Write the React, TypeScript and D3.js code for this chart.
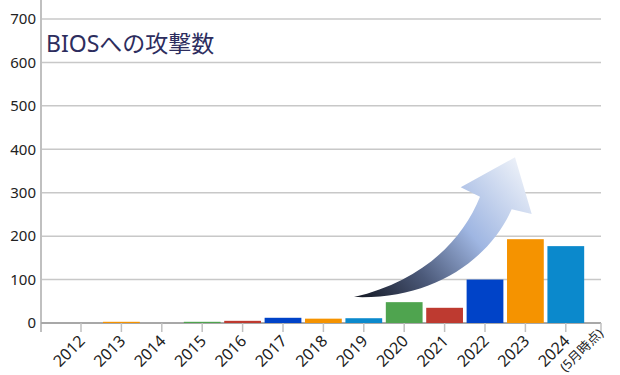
import * as d3 from "d3";

const years = ["2012", "2013", "2014", "2015", "2016", "2017", "2018", "2019", "2020", "2021", "2022", "2023", "2024"];
const attacks = [0, 1, 0, 1, 5, 12, 10, 11, 48, 35, 100, 193, 177];
const yTicks = [0, 100, 200, 300, 400, 500, 600, 700];
const palette = ["#0043c8", "#f59300", "#0b89cc", "#4fa44f", "#be3a30"];
const title = "BIOSへの攻撃数";
const footnote = "(5月時点)";

const W = 620, H = 375;
const left = 41, right = 601, top = 19, bottom = 323;
const font = "'Noto Sans', 'Noto Sans CJK JP', sans-serif";

export default function App() {
  const y = d3.scaleLinear().domain([0, 700]).range([bottom, top]);
  const x = d3.scaleBand().domain(years).range([60.8, 586]).paddingInner(0.09).paddingOuter(0.045);
  const color = d3.scaleOrdinal<string, string>().domain(years).range(palette);
  const cx = (d: string) => (x(d) ?? 0) + x.bandwidth() / 2;

  // arrow: tail at lower left, head at upper right
  const arrow = d3.path();
  arrow.moveTo(354, 297);
  arrow.bezierCurveTo(430, 300, 488, 262, 511.7, 209.3);
  arrow.lineTo(531.7, 214);
  arrow.lineTo(515, 157.3);
  arrow.lineTo(460.7, 187.3);
  arrow.lineTo(480, 196.7);
  arrow.bezierCurveTo(462, 242, 420, 282, 354, 297);
  arrow.closePath();

  return (
    <svg width={W} height={H} style={{ position: "absolute", left: 0, top: 0, background: "#fff" }} fontFamily={font}>
      <defs>
        <linearGradient id="arrowGrad" gradientUnits="userSpaceOnUse" x1={360} y1={300} x2={525} y2={165}>
          <stop offset="0" stopColor="#151925" />
          <stop offset="0.3" stopColor="#4c5a7a" />
          <stop offset="0.6" stopColor="#9fb6e2" />
          <stop offset="1" stopColor="#eef2f9" />
        </linearGradient>
      </defs>

      {yTicks.filter(t => t > 0).map(t => (
        <line key={t} x1={left} x2={right} y1={y(t)} y2={y(t)} stroke="#c8c8c8" strokeWidth={1.5} />
      ))}
      {yTicks.map(t => (
        <text key={t} x={36} y={y(t)} dy="0.35em" textAnchor="end" fontSize={15} fill="#222">{t}</text>
      ))}

      <line x1={left} x2={left} y1={0} y2={332} stroke="#c0c0c0" strokeWidth={2} />
      <line x1={left} x2={right} y1={bottom} y2={bottom} stroke="#a8a8a8" strokeWidth={2} />
      {years.map(d => (
        <line key={d} x1={cx(d)} x2={cx(d)} y1={bottom} y2={332} stroke="#c0c0c0" strokeWidth={1.5} />
      ))}
      <line x1={right} x2={right} y1={bottom} y2={332} stroke="#c0c0c0" strokeWidth={1.5} />

      {years.map((d, i) => {
        const h = Math.max(bottom - y(attacks[i]), attacks[i] > 0 ? 1.2 : 0);
        return (
          <rect key={d} x={x(d)} width={x.bandwidth()} y={bottom - h} height={h} fill={color(d)} />
        );
      })}

      <path d={arrow.toString()} fill="url(#arrowGrad)" />

      {years.map((d, i) => (
        <g key={d} transform={`translate(${cx(d) + 1},${338}) rotate(-45)`}>
          <text textAnchor="end" dy="0.35em" fontSize={16} fill="#222">{d}</text>
          {i === years.length - 1 && (
            <text textAnchor="end" x={29} y={19} dy="0.35em" fontSize={13} fill="#222">{footnote}</text>
          )}
        </g>
      ))}

      <text x={46} y={52} fontSize={23} fill="#2d2d5e">{title}</text>
    </svg>
  );
}
